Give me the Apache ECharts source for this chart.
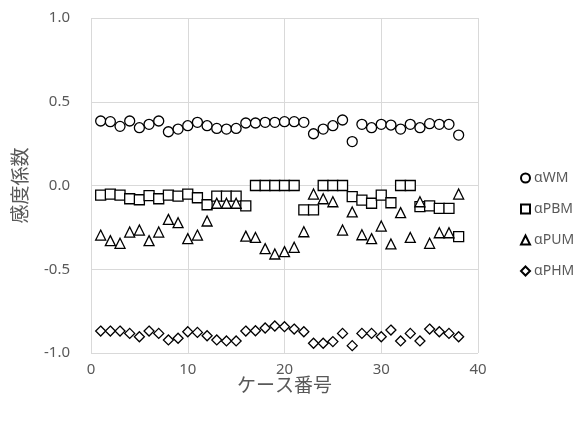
<!DOCTYPE html>
<html><head><meta charset="utf-8">
<script src="https://cdn.jsdelivr.net/npm/echarts@6/dist/echarts.min.js"></script>
<style>html,body{margin:0;padding:0;background:#fff}#c{width:579px;height:421px}</style>
</head><body><div id="c"></div>
<script>
const cases = [1,2,3,4,5,6,7,8,9,10,11,12,13,14,15,16,17,18,19,20,21,22,23,24,25,26,27,28,29,30,31,32,33,34,35,36,37,38];
const aWM  = [0.385,0.381,0.353,0.385,0.345,0.365,0.385,0.321,0.337,0.357,0.377,0.357,0.341,0.337,0.341,0.373,0.373,0.377,0.377,
              0.381,0.381,0.377,0.309,0.337,0.357,0.391,0.262,0.365,0.345,0.365,0.361,0.337,0.365,0.345,0.369,0.365,0.365,0.301];
const aPBM = [-0.057,-0.051,-0.057,-0.079,-0.085,-0.061,-0.079,-0.057,-0.063,-0.051,-0.073,-0.115,-0.063,-0.063,-0.063,-0.122,0.0,0.0,0.0,
              0.0,0.0,-0.146,-0.146,0.0,0.0,0.0,-0.067,-0.087,-0.106,-0.057,-0.103,0.0,0.0,-0.126,-0.122,-0.136,-0.136,-0.305];
const aPUM = [-0.296,-0.329,-0.345,-0.278,-0.266,-0.329,-0.278,-0.202,-0.222,-0.317,-0.296,-0.212,-0.106,-0.106,-0.106,-0.302,-0.310,-0.377,-0.409,
              -0.395,-0.369,-0.276,-0.051,-0.079,-0.097,-0.266,-0.158,-0.294,-0.317,-0.242,-0.349,-0.162,-0.310,-0.097,-0.345,-0.282,-0.282,-0.051];
const aPHM = [-0.869,-0.869,-0.869,-0.883,-0.903,-0.869,-0.883,-0.922,-0.912,-0.873,-0.877,-0.897,-0.922,-0.928,-0.928,-0.869,-0.867,-0.851,-0.839,
              -0.843,-0.857,-0.873,-0.942,-0.942,-0.932,-0.883,-0.956,-0.883,-0.883,-0.903,-0.863,-0.928,-0.883,-0.928,-0.857,-0.873,-0.883,-0.903];
const seriesNames = ['αWM','αPBM','αPUM','αPHM'];
const seriesData = [aWM,aPBM,aPUM,aPHM];
const symbols = ['circle','rect','triangle','diamond'];
const sizes = [10,10,10,10];

const gray = '#595959';
const chart = echarts.init(document.getElementById('c'));
chart.setOption({
  animation:false,
  backgroundColor:'#fff',
  grid:{left:91,right:101,top:18,bottom:68},
  xAxis:{type:'value',min:0,max:40,interval:10,
    axisLine:{show:false},axisTick:{show:false},
    splitLine:{show:true,lineStyle:{color:'#d9d9d9',width:1}},
    axisLabel:{color:gray,fontSize:15,margin:9,fontFamily:'Noto Sans'},
    name:'ケース番号',nameLocation:'middle',nameGap:22,nameMoveOverlap:false,
    nameTextStyle:{color:gray,fontSize:19,fontFamily:'Noto Sans CJK JP'}},
  yAxis:{type:'value',min:-1,max:1,interval:0.5,
    axisLine:{show:false},axisTick:{show:false},
    splitLine:{show:true,lineStyle:{color:'#d9d9d9',width:1}},
    axisLabel:{color:gray,fontSize:15,margin:21,fontFamily:'Noto Sans',formatter:v=>v.toFixed(1)},
    name:'感度係数',nameLocation:'middle',nameGap:62,nameRotate:90,nameMoveOverlap:false,
    nameTextStyle:{color:gray,fontSize:19,fontFamily:'Noto Sans CJK JP'}},
  legend:{orient:'vertical',left:515,top:166,itemGap:17,itemWidth:9,itemHeight:9,
    data:seriesNames,
    textStyle:{color:gray,fontSize:14,fontFamily:'Noto Sans',padding:[0,0,0,-1]}},
  series: seriesNames.map((n,i)=>({
    name:n,type:'scatter',symbol:symbols[i],symbolSize:sizes[i],
    data:cases.map((c,j)=>[c,seriesData[i][j]]),
    itemStyle:{color:'#fff',borderColor:'#000',borderWidth:1.3,opacity:1}
  }))
});
</script></body></html>
